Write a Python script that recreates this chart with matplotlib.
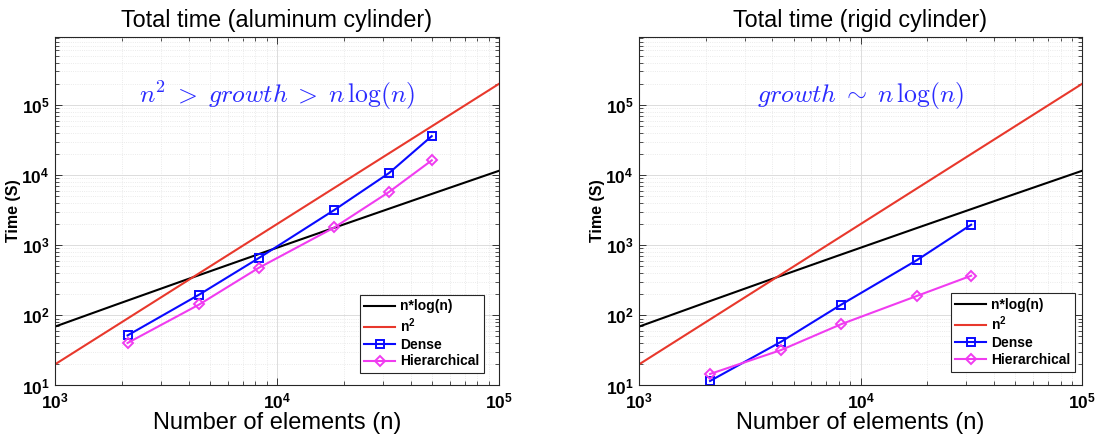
import numpy as np
import matplotlib
matplotlib.use("Agg")
import matplotlib.pyplot as plt
from matplotlib.ticker import LogLocator, FuncFormatter, NullFormatter

plt.rcParams["font.family"] = ["Liberation Sans", "DejaVu Sans"]
plt.rcParams["mathtext.fontset"] = "custom"
plt.rcParams["mathtext.rm"] = "Liberation Sans:bold"
plt.rcParams["mathtext.bf"] = "Liberation Sans:bold"

# Reference curves: c * n * ln(n) and c * n^2 over the plotted range
N_RANGE = [1e3, 1e5]
NLOGN_COEF = 0.01
N2_COEF = 2e-5

# Aluminum cylinder timings (s)
alu_n = [2124, 4467, 8260, 18150, 31980, 49770]
alu_dense = [51.8, 198, 652, 3190, 10700, 35900]
alu_hier = [40.4, 143, 474, 1795, 5750, 16200]

# Rigid cylinder timings (s)
rigid_n = [2092, 4375, 8170, 17950, 31560]
rigid_dense = [11.6, 42, 142, 612, 1960]
rigid_hier = [14.6, 32, 74.8, 189, 367]

titles = ["Total time (aluminum cylinder)", "Total time (rigid cylinder)"]
notes = [r"$n^2\;>\;growth\;>\;n\,\log(n)$", r"$growth\;\sim\;n\,\log(n)$"]
legend_labels = ["n*log(n)", r"n$^2$", "Dense", "Hierarchical"]

BLUE = "#0a0aff"
RED = "#e8382c"
MAGENTA = "#f03cf0"
NOTE_BLUE = "#2b2bff"


def sci_label(v, pos):
    return r"$\mathbf{10^{%d}}$" % round(np.log10(v))


def panel(ax, n, dense, hier, title, note, leg_anchor):
    n_ref = np.logspace(np.log10(N_RANGE[0]), np.log10(N_RANGE[1]), 200)
    ax.plot(n_ref, NLOGN_COEF * n_ref * np.log(n_ref), color="black", lw=1.5,
            label=legend_labels[0])
    ax.plot(n_ref, N2_COEF * n_ref ** 2, color=RED, lw=1.5, label=legend_labels[1])
    ax.plot(n, dense, color=BLUE, lw=1.5, marker="s", ms=6, mfc="none", mew=1.4,
            label=legend_labels[2])
    ax.plot(n, hier, color=MAGENTA, lw=1.5, marker="D", ms=5.5, mfc="none", mew=1.4,
            label=legend_labels[3])

    ax.set_xscale("log")
    ax.set_yscale("log")
    ax.set_xlim(1e3, 1e5)
    ax.set_ylim(10, 9.4e5)

    for axis in (ax.xaxis, ax.yaxis):
        axis.set_major_locator(LogLocator(base=10, numticks=10))
        axis.set_minor_locator(LogLocator(base=10, subs=np.arange(2, 10), numticks=10))
        axis.set_major_formatter(FuncFormatter(sci_label))
        axis.set_minor_formatter(NullFormatter())

    ax.tick_params(which="both", direction="in", top=True, right=True,
                   labelsize=12.5, color="#333333")
    ax.tick_params(which="major", length=5, width=0.7, pad=4)
    ax.tick_params(which="minor", length=3, width=0.6)
    ax.grid(which="major", color="#dcdcdc", lw=0.7)
    ax.grid(which="minor", color="#e4e4e4", lw=0.6, ls=":")
    for sp in ax.spines.values():
        sp.set_color("#262626")
        sp.set_linewidth(0.8)

    ax.set_title(title, fontsize=16.8, pad=7)
    ax.set_xlabel("Number of elements (n)", fontsize=17, labelpad=1)
    ax.set_ylabel("Time (S)", fontsize=11.5, fontweight="bold", labelpad=0)

    ax.text(0.5, 0.832, note, transform=ax.transAxes, ha="center", va="center",
            fontsize=18.5, color=NOTE_BLUE, math_fontfamily="cm")

    leg = ax.legend(loc="lower right", bbox_to_anchor=leg_anchor, borderaxespad=0,
                    prop={"size": 10, "weight": "bold"}, fancybox=False,
                    framealpha=1, edgecolor="#262626", handlelength=2.2,
                    labelspacing=0.2, borderpad=0.35, handletextpad=0.35)
    leg.get_frame().set_linewidth(0.8)


fig = plt.figure(figsize=(10.95, 4.4), dpi=100)
ax1 = fig.add_axes([0.0502, 0.1239, 0.4055, 0.7927])
ax2 = fig.add_axes([0.5836, 0.1239, 0.4046, 0.7927])

panel(ax1, alu_n, alu_dense, alu_hier, titles[0], notes[0], (0.966, 0.035))
panel(ax2, rigid_n, rigid_dense, rigid_hier, titles[1], notes[1], (0.984, 0.04))

fig.savefig("out.png", dpi=100)
